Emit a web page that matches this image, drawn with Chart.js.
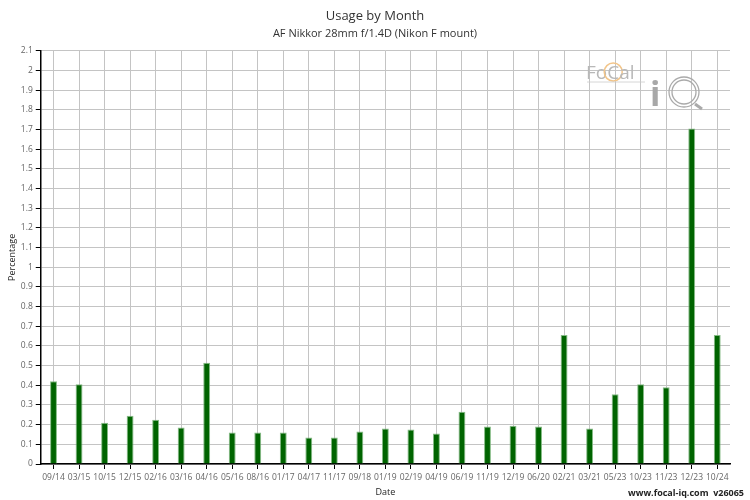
<!DOCTYPE html>
<html><head><meta charset="utf-8">
<script src="https://cdn.jsdelivr.net/npm/chart.js@4.4.0/dist/chart.umd.min.js"></script>
<style>html,body{margin:0;padding:0;background:#fff}#wrap{width:750px;height:500px}</style>
</head><body><div id="wrap"><canvas id="c" width="750" height="500"></canvas></div>
<script>
const categories = ["09/14","03/15","10/15","12/15","02/16","03/16","04/16","05/16","08/16","01/17","04/17","11/17","09/18","01/19","02/19","04/19","06/19","11/19","12/19","06/20","02/21","03/21","05/23","10/23","11/23","12/23","10/24"];
const usage = [0.42,0.405,0.21,0.245,0.225,0.185,0.515,0.16,0.16,0.16,0.135,0.135,0.165,0.18,0.175,0.155,0.265,0.19,0.195,0.19,0.655,0.18,0.355,0.405,0.39,1.705,0.655];
const titleText = "Usage by Month";
const subtitleText = "AF Nikkor 28mm f/1.4D (Nikon F mount)";
const yTitle = "Percentage";
const xTitle = "Date";
const footerText = "www.focal-iq.com  v26065";

const FONT = "'Open Sans', sans-serif";

const decor = {
  id: 'decor',
  afterDraw(chart) {
    const ctx = chart.ctx;
    ctx.save();
    ctx.font = "bold 9px " + FONT;
    ctx.fillStyle = "#222";
    ctx.textAlign = "right";
    ctx.textBaseline = "middle";
    ctx.fillText(footerText, 744, 493);
    // watermark logo
    ctx.textAlign = "left";
    ctx.textBaseline = "alphabetic";
    ctx.font = "19px " + FONT;
    ctx.fillStyle = "#b8b8b8";
    let x = 586;
    ctx.fillText("Fo", x, 79); x += ctx.measureText("Fo").width;
    const cw = ctx.measureText("C").width;
    ctx.strokeStyle = "#f2c58a";
    ctx.lineWidth = 1.5;
    ctx.beginPath(); ctx.arc(x + cw/2, 72, 9, 0, Math.PI*2); ctx.stroke();
    ctx.fillText("C", x, 79); x += cw;
    ctx.fillText("al", x, 79);
    ctx.strokeStyle = "#ccc"; ctx.lineWidth = 0.8;
    ctx.beginPath(); ctx.moveTo(587, 82); ctx.lineTo(645, 82); ctx.stroke();
    ctx.font = "bold 34px " + FONT;
    ctx.fillStyle = "#a8a8a8";
    ctx.fillText("i", 650, 106);
    ctx.strokeStyle = "#aaa";
    ctx.lineWidth = 1.3;
    ctx.beginPath(); ctx.arc(684, 92, 15, 0, Math.PI*2); ctx.stroke();
    ctx.beginPath(); ctx.arc(684, 92, 12, 0, Math.PI*2); ctx.stroke();
    ctx.lineWidth = 3;
    ctx.beginPath(); ctx.moveTo(695, 104); ctx.lineTo(702, 109); ctx.stroke();
    ctx.restore();
  }
};

new Chart(document.getElementById('c'), {
  type: 'bar',
  data: {
    labels: categories,
    datasets: [{
      label: 'Usage',
      data: usage,
      backgroundColor: '#006400',
      borderColor: 'rgba(120,180,120,0.9)',
      borderWidth: 1,
      barPercentage: 0.27,
      categoryPercentage: 1.0
    }]
  },
  options: {
    responsive: false,
    animation: false,
    devicePixelRatio: 1,
    layout: { padding: { left: 0, right: 0, top: 0, bottom: 0 } },
    plugins: {
      legend: { display: false },
      tooltip: { enabled: false },
      title: { display: true, text: titleText, color: '#333', font: { family: FONT, size: 13, weight: 'normal' }, padding: { top: 8, bottom: 4 } },
      subtitle: { display: true, text: subtitleText, color: '#333', font: { family: FONT, size: 11, weight: 'normal' }, padding: { top: 0, bottom: 10 } }
    },
    scales: {
      x: {
        offset: true,
        grid: { offset: false, color: '#c4c4c4', lineWidth: 1, tickLength: 5, tickColor: '#000' },
        border: { color: '#000', width: 1.5 },
        ticks: { color: '#666', font: { family: FONT, size: 8.5 }, maxRotation: 0, autoSkip: false, padding: 3 },
        title: { display: true, text: xTitle, color: '#222', font: { family: FONT, size: 9 }, padding: { top: 2, bottom: 2 } }
      },
      y: {
        min: 0, max: 2.1,
        grid: { color: '#c4c4c4', lineWidth: 1, tickLength: 5, tickColor: '#000' },
        border: { color: '#000', width: 1.5 },
        ticks: { stepSize: 0.1, color: '#666', font: { family: FONT, size: 8.5 }, padding: 3,
          callback: v => Math.round(v*10)/10 },
        title: { display: true, text: yTitle, color: '#222', font: { family: FONT, size: 9 }, padding: { top: 7, bottom: 0 } }
      },
      yR: {
        position: 'right',
        min: 0, max: 2.1,
        grid: { display: false, drawOnChartArea: false },
        border: { display: false },
        ticks: { display: false },
        afterFit: s => { s.width = 20; }
      }
    }
  },
  plugins: [decor]
});
</script></body></html>
